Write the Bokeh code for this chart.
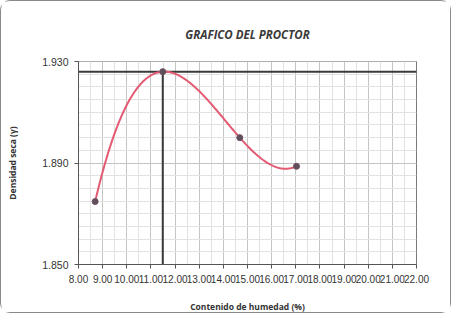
import numpy as np
from bokeh.plotting import figure
from bokeh.models import FixedTicker, NumeralTickFormatter, Range1d
from bokeh.embed import file_html
from bokeh.resources import INLINE

# ---- data ----
humedad = [8.69, 11.49, 14.68, 17.03]          # Contenido de humedad (%)
densidad = [1.8748, 1.9260, 1.9000, 1.8887]     # Densidad seca
x_ticks = [8, 9, 10, 11, 12, 13, 14, 15, 16, 17, 18, 19, 20, 21, 22]
y_ticks = [1.850, 1.890, 1.930]
title_text = "GRAFICO DEL PROCTOR"
x_label = "Contenido de humedad (%)"
y_label = "Densidad seca (\u03b3)"

# ---- layout / style ----
W, H = 451, 313
BL, BR, BT, BB = 77, 36, 60, 50

# ---- polynomial (order 3) trendline through the points ----
coef = np.polyfit(humedad, densidad, 3)
xt = np.linspace(min(humedad), max(humedad), 200)
yt = np.polyval(coef, xt)

imax = densidad.index(max(densidad))
x_opt = humedad[imax]
y_opt = densidad[imax]

p = figure(width=W, height=H, output_backend="svg", toolbar_location=None,
           x_range=Range1d(x_ticks[0], x_ticks[-1]), y_range=Range1d(y_ticks[0], y_ticks[-1]),
           min_border_left=BL, min_border_right=BR, min_border_top=BT, min_border_bottom=BB)
p.styles = {"border": "1.5px solid #8a8a8a", "border-radius": "10px"}
p.background_fill_color = "white"
p.border_fill_color = "white"
p.outline_line_color = "#7a7a7a"
p.outline_line_width = 1

# title
p.title.text = title_text
p.title.align = "center"
p.title.text_font = "Open Sans"
p.title.text_font_style = "bold italic"
p.title.text_font_size = "11.5px"
p.title.text_color = "#3a3a3a"
p.title.standoff = 40

# grid
p.xaxis.ticker = FixedTicker(ticks=x_ticks, minor_ticks=[v + 0.5 for v in x_ticks[:-1]])
p.yaxis.ticker = FixedTicker(ticks=y_ticks, minor_ticks=[y_ticks[0] + 0.005 * j for j in range(17)])
p.xgrid.grid_line_color = "#c4c4c4"
p.ygrid.grid_line_color = "#c4c4c4"
p.xgrid.minor_grid_line_color = "#e2e2e2"
p.ygrid.minor_grid_line_color = "#e2e2e2"

# axes
for ax in (p.xaxis[0], p.yaxis[0]):
    ax.axis_line_color = "#555555"
    ax.major_tick_line_color = "#555555"
    ax.major_tick_out = 4
    ax.major_tick_in = 0
    ax.minor_tick_line_color = None
    ax.major_label_text_font = "Liberation Sans"
    ax.major_label_text_color = "#333333"
    ax.axis_label_text_font = "Open Sans"
    ax.axis_label_text_font_style = "bold"
    ax.axis_label_text_font_size = "8.5px"
    ax.axis_label_text_color = "#333333"

p.xaxis.major_label_text_font_size = "10px"
p.yaxis.major_label_text_font_size = "10.5px"
p.xaxis.formatter = NumeralTickFormatter(format="0.00")
p.yaxis.formatter = NumeralTickFormatter(format="0.000")
p.xaxis.major_label_standoff = 6
p.yaxis.major_label_standoff = 6
p.xaxis.axis_label = x_label
p.yaxis.axis_label = y_label
p.xaxis.axis_label_standoff = 15
p.yaxis.axis_label_standoff = 21

# optimum lines
p.segment(x0=[x_ticks[0]], y0=[y_opt], x1=[x_ticks[-1]], y1=[y_opt], line_color="#3a3a3a", line_width=2)
p.segment(x0=[x_opt], y0=[y_ticks[0]], x1=[x_opt], y1=[y_opt], line_color="#3a3a3a", line_width=2)

# trendline + points
p.line(xt, yt, line_color="#e35a72", line_width=2)
p.scatter(humedad, densidad, size=6, fill_color="#5e4f5a", line_color="#6e5060", line_width=1)

open("out.html", "w").write(file_html(p, INLINE))
